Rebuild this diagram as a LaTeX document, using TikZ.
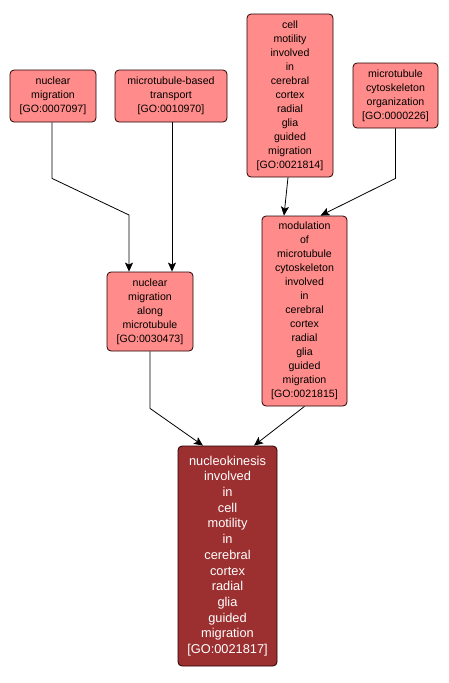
\documentclass[tikz,border=0pt]{standalone}
\usepackage{fontspec}
\setmainfont{Liberation Sans}
\usetikzlibrary{arrows.meta}
\definecolor{lightgo}{HTML}{FF8C8A}
\definecolor{darkgo}{HTML}{9C3030}
\begin{document}
\begin{tikzpicture}[x=1pt,y=-1pt,
  gonode/.style={draw=black!85!red, line width=0.8pt, rounded corners=4pt, fill=lightgo,
    align=center, inner sep=0pt, font=\fontsize{10.6}{14}\selectfont},
  godark/.style={gonode, fill=darkgo, text=white, font=\fontsize{12.8}{15.7}\selectfont},
  edge/.style={draw=black, line width=0.8pt, -{Stealth[length=9pt,width=8pt,inset=2pt]}}]
\useasboundingbox (0,0) rectangle (448,683);
\node[gonode, minimum width=86, minimum height=52] (A) at (53,96)
  {nuclear\\migration\\{[GO:0007097]}};
\node[gonode, minimum width=112, minimum height=52] (B) at (171,96)
  {microtubule-based\\transport\\{[GO:0010970]}};
\node[gonode, minimum width=86, minimum height=163] (C) at (290,95.5)
  {cell\\motility\\involved\\in\\cerebral\\cortex\\radial\\glia\\guided\\migration\\{[GO:0021814]}};
\node[gonode, minimum width=85, minimum height=65] (D) at (395.5,95.5)
  {microtubule\\cytoskeleton\\organization\\{[GO:0000226]}};
\node[gonode, minimum width=86, minimum height=79] (E) at (150,311.5)
  {nuclear\\migration\\along\\microtubule\\{[GO:0030473]}};
\node[gonode, minimum width=85, minimum height=190] (F) at (304.5,311)
  {modulation\\of\\microtubule\\cytoskeleton\\involved\\in\\cerebral\\cortex\\radial\\glia\\guided\\migration\\{[GO:0021815]}};
\node[godark, minimum width=99, minimum height=220] (G) at (227.5,556)
  {nucleokinesis\\involved\\in\\cell\\motility\\in\\cerebral\\cortex\\radial\\glia\\guided\\migration\\{[GO:0021817]}};
\coordinate (a2) at (129,215);
\draw[edge] ([xshift=-1pt]A.south) -- ++(0,56) -- (a2) -- (E.north -| a2);
\draw[edge] ([xshift=1pt]B.south) -- ([xshift=1pt]B.south |- E.north);
\draw[edge] ([xshift=-2pt]C.south) -- ([xshift=-20.5pt]F.north);
\draw[edge] (D.south) -- ++(0,50) -- ([xshift=16pt]F.north);
\draw[edge] (E.south) -- ++(0,57) -- ([xshift=-24.5pt]G.north);
\draw[edge] (F.south) -- ([xshift=26.5pt]G.north);
\end{tikzpicture}
\end{document}
